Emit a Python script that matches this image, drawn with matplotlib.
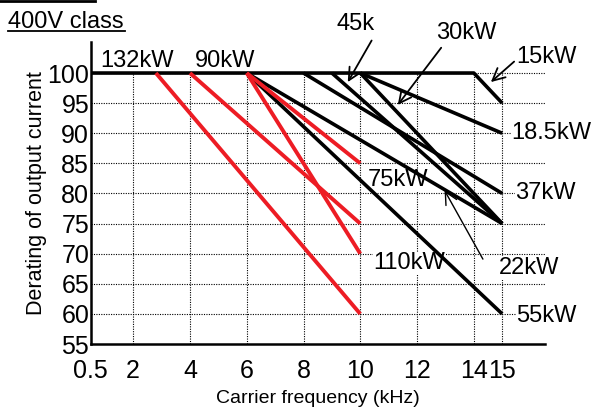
import matplotlib
matplotlib.use('Agg')
import matplotlib.pyplot as plt
from matplotlib.lines import Line2D

plt.rcParams['font.family'] = ['Liberation Sans', 'DejaVu Sans']

# derating curves: carrier frequency (kHz) vs derating (%)
kw_black = ['15kW', '18.5kW', '30kW', '45kW', '37kW', '22kW', '55kW']
f_black = [[0.5, 14, 15], [10, 15], [10, 15], [9, 15], [8, 15], [6, 15], [6, 15]]
d_black = [[100, 100, 95], [100, 90], [100, 75], [100, 75], [100, 80], [100, 75], [100, 60]]

kw_red = ['132kW', '90kW', '75kW', '110kW']
f_red = [[2.8, 10], [4, 10], [6, 10], [6, 10]]
d_red = [[100, 60], [100, 75], [100, 85], [100, 70]]

xticks = [0.5, 2, 4, 6, 8, 10, 12, 14, 15]
xticklabels = ['0.5', '2', '4', '6', '8', '10', '12', '14', '15']
yticks = [55, 60, 65, 70, 75, 80, 85, 90, 95, 100]

fig = plt.figure(figsize=(6, 4.16), dpi=100)
ax = fig.add_axes([0.151, 0.173, 0.757, 0.726])
ax.set_xlim(0.5, 16.5)
ax.set_ylim(55, 105.15)

# dotted grid, vertical lines stop at 100
for y in yticks[1:]:
    ax.plot([0.5, 16.5], [y, y], ls=(0, (1, 1.2)), color='black', lw=0.8, zorder=1)
for x in xticks[1:]:
    ax.plot([x, x], [55, 100], ls=(0, (1, 1.2)), color='black', lw=0.8, zorder=1)

for f, d in zip(f_black, d_black):
    ax.plot(f, d, color='black', lw=2.6, solid_capstyle='butt', zorder=4)
for f, d in zip(f_red, d_red):
    ax.plot(f, d, color='#ed1c24', lw=2.8, solid_capstyle='butt', zorder=5)

lab = dict(fontsize=17, ha='center', va='center', zorder=3,
           bbox=dict(facecolor='white', edgecolor='none', pad=0.5))
ax.text(2.14, 102.0, '132kW', **lab)
ax.text(5.25, 102.0, '90kW', **lab)
ax.text(9.85, 108.1, '45k', **lab)
ax.text(13.73, 106.6, '30kW', **lab)
ax.text(16.56, 102.7, '15kW', **lab)
ax.text(16.74, 90.0, '18.5kW', **lab)
ax.text(11.33, 82.2, '75kW', **lab)
ax.text(16.53, 80.1, '37kW', **lab)
ax.text(11.72, 68.4, '110kW', **lab)
ax.text(15.96, 67.6, '22kW', **lab)
ax.text(16.56, 59.6, '55kW', **lab)

arr = dict(arrowstyle='->', color='black', lw=1.3, mutation_scale=22, shrinkA=0, shrinkB=0)
ax.annotate('', xy=(9.56, 98.5), xytext=(10.4, 105.4), arrowprops=arr, annotation_clip=False)
ax.annotate('', xy=(11.32, 94.7), xytext=(12.85, 104.2), arrowprops=arr, annotation_clip=False)
ax.annotate('', xy=(14.6, 98.5), xytext=(15.42, 101.9), arrowprops=arr, annotation_clip=False)
arr2 = dict(arr, lw=1.0)
ax.annotate('', xy=(12.97, 80.5), xytext=(14.32, 69.1), arrowprops=arr2, zorder=4)

for s in ['top', 'right']:
    ax.spines[s].set_visible(False)
for s in ['left', 'bottom']:
    ax.spines[s].set_linewidth(1.8)

ax.set_xticks(xticks)
ax.set_xticklabels(xticklabels)
ax.set_yticks(yticks)
ax.tick_params(length=0, labelsize=18)
ax.tick_params(axis='x', pad=11)
ax.tick_params(axis='y', pad=1)
ax.set_xlabel('Carrier frequency (kHz)', fontsize=14, labelpad=5)
ax.set_ylabel('Derating of output current', fontsize=15.5, labelpad=0)

fig.text(8 / 600, 1 - 28 / 416, '400V class', fontsize=17, ha='left', va='baseline')
fig.add_artist(Line2D([8 / 600, 125 / 600], [1 - 31 / 416] * 2, color='black', lw=1.3))
fig.add_artist(Line2D([0, 95 / 600], [1 - 1 / 416] * 2, color='black', lw=2))

fig.savefig('out.png', dpi=100)
